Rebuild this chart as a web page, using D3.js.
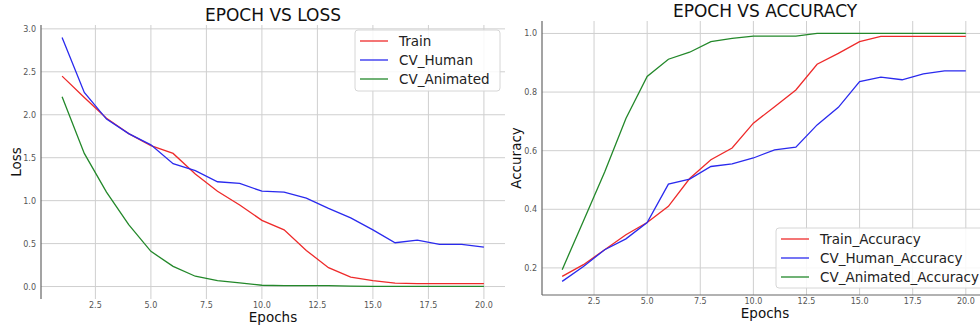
<!DOCTYPE html>
<html lang="en">
<head>
    <meta charset="UTF-8" />
    <title>Epoch vs Loss / Accuracy</title>
    <style>
        body, html {
            margin: 0;
            padding: 0;
            overflow: hidden;
            background: #ffffff;
            font-family: "DejaVu Sans", sans-serif;
        }
        svg {
            display: block;
        }
        .grid line {
            stroke: #cfcfcf;
            stroke-width: 1px;
        }
        .tick-label {
            font-size: 8px;
            fill: #555;
        }
        .title {
            font-size: 17px;
            fill: #111;
        }
        .axis-label {
            font-size: 13.5px;
            fill: #111;
        }
        .legend text {
            font-size: 13.5px;
            fill: #222;
        }
    </style>
</head>
<body>

<svg width="980" height="329"></svg>

<script src="https://d3js.org/d3.v7.min.js"></script>
<script>
    // data
    const epochs = [1, 2, 3, 4, 5, 6, 7, 8, 9, 10, 11, 12, 13, 14, 15, 16, 17, 18, 19, 20];

    const trainLoss = [2.45, 2.20, 1.96, 1.78, 1.64, 1.55, 1.31, 1.11, 0.95, 0.77,
                       0.66, 0.42, 0.22, 0.11, 0.07, 0.04, 0.035, 0.035, 0.035, 0.035];
    const cvHumanLoss = [2.90, 2.26, 1.95, 1.78, 1.65, 1.43, 1.35, 1.22, 1.20, 1.11,
                         1.10, 1.03, 0.91, 0.80, 0.66, 0.51, 0.54, 0.49, 0.49, 0.46];
    const cvAnimatedLoss = [2.21, 1.55, 1.10, 0.72, 0.41, 0.235, 0.12, 0.07, 0.043, 0.015,
                            0.01, 0.01, 0.01, 0.005, 0.003, 0.002, 0.002, 0.002, 0.002, 0.002];

    const trainAcc = [0.171, 0.211, 0.262, 0.313, 0.355, 0.41, 0.505, 0.569, 0.609, 0.694,
                      0.75, 0.807, 0.895, 0.932, 0.972, 0.99, 0.99, 0.99, 0.99, 0.99];
    const cvHumanAcc = [0.154, 0.205, 0.262, 0.299, 0.355, 0.486, 0.503, 0.546, 0.555, 0.575,
                        0.603, 0.612, 0.688, 0.748, 0.836, 0.851, 0.842, 0.862, 0.872, 0.872];
    const cvAnimatedAcc = [0.194, 0.36, 0.527, 0.71, 0.853, 0.912, 0.936, 0.972, 0.983, 0.991,
                           0.991, 0.991, 1.0, 1.0, 1.0, 1.0, 1.0, 1.0, 1.0, 1.0];

    const xTicks = [2.5, 5.0, 7.5, 10.0, 12.5, 15.0, 17.5, 20.0];
    const lossTicks = [0.0, 0.5, 1.0, 1.5, 2.0, 2.5, 3.0];
    const accTicks = [0.2, 0.4, 0.6, 0.8, 1.0];

    const lossNames = ["Train", "CV_Human", "CV_Animated"];
    const accNames = ["Train_Accuracy", "CV_Human_Accuracy", "CV_Animated_Accuracy"];
    const colors = ["#ee2a2a", "#2a2aee", "#23882a"];

    const svg = d3.select("svg");

    // one matplotlib-like panel
    function drawPanel(opt) {
        const g = svg.append("g");

        const x = d3.scaleLinear().domain(opt.xDomain).range([opt.left, opt.right]);
        const y = d3.scaleLinear().domain(opt.yDomain).range([opt.bottom, opt.top]);

        // grid
        const grid = g.append("g").attr("class", "grid");
        grid.selectAll("line.v")
            .data(xTicks)
            .join("line")
            .attr("class", "v")
            .attr("x1", d => x(d)).attr("x2", d => x(d))
            .attr("y1", opt.top).attr("y2", opt.bottom);
        grid.selectAll("line.h")
            .data(opt.yTicks)
            .join("line")
            .attr("class", "h")
            .attr("x1", opt.left).attr("x2", opt.right)
            .attr("y1", d => y(d)).attr("y2", d => y(d));

        // spines
        g.append("line")
            .attr("x1", opt.left).attr("x2", opt.left)
            .attr("y1", opt.top).attr("y2", opt.bottom)
            .attr("stroke", "#666").attr("stroke-width", 1.2);
        if (opt.bottomSpine) {
            g.append("line")
                .attr("x1", opt.left).attr("x2", opt.right)
                .attr("y1", opt.bottom).attr("y2", opt.bottom)
                .attr("stroke", "#666").attr("stroke-width", 1.2);
        }

        // tick labels
        g.selectAll("text.xt")
            .data(xTicks)
            .join("text")
            .attr("class", "tick-label xt")
            .attr("x", d => x(d))
            .attr("y", opt.bottom + opt.xTickOffset)
            .attr("text-anchor", "middle")
            .text(d => d.toFixed(1));
        g.selectAll("text.yt")
            .data(opt.yTicks)
            .join("text")
            .attr("class", "tick-label yt")
            .attr("x", opt.left - 5)
            .attr("y", d => y(d) + 3)
            .attr("text-anchor", "end")
            .text(d => d.toFixed(1));

        // lines
        const line = d3.line()
            .x((d, i) => x(epochs[i]))
            .y(d => y(d));
        g.selectAll("path.series")
            .data(opt.series)
            .join("path")
            .attr("class", "series")
            .attr("fill", "none")
            .attr("stroke", (d, i) => colors[i])
            .attr("stroke-width", 1.3)
            .attr("d", d => line(d));

        // titles
        const cx = (opt.left + opt.right) / 2;
        g.append("text")
            .attr("class", "title")
            .attr("x", opt.titleX || cx)
            .attr("y", opt.titleY)
            .attr("text-anchor", "middle")
            .text(opt.title);
        g.append("text")
            .attr("class", "axis-label")
            .attr("x", opt.titleX || cx)
            .attr("y", opt.xLabelY)
            .attr("text-anchor", "middle")
            .text("Epochs");
        g.append("text")
            .attr("class", "axis-label")
            .attr("transform", `translate(${opt.yLabelX},${(opt.top + opt.bottom) / 2}) rotate(-90)`)
            .attr("text-anchor", "middle")
            .text(opt.yLabel);

        // legend
        const lg = g.append("g").attr("class", "legend");
        lg.append("rect")
            .attr("x", opt.legend.x).attr("y", opt.legend.y)
            .attr("width", opt.legend.w).attr("height", opt.legend.h)
            .attr("rx", 3)
            .attr("fill", "#fff").attr("fill-opacity", 0.85)
            .attr("stroke", "#d6d6d6");
        const items = lg.selectAll("g.item")
            .data(opt.names)
            .join("g")
            .attr("class", "item")
            .attr("transform", (d, i) => `translate(${opt.legend.x},${opt.legend.y + 11 + i * 19})`);
        items.append("line")
            .attr("x1", 5).attr("x2", 33)
            .attr("y1", 0).attr("y2", 0)
            .attr("stroke", (d, i) => colors[i])
            .attr("stroke-width", 1.3);
        items.append("text")
            .attr("x", 44)
            .attr("y", 5)
            .text(d => d);
    }

    drawPanel({
        left: 41, right: 505, top: 25, bottom: 299,
        xDomain: [0.05, 20.95], yDomain: [-0.145, 3.045],
        yTicks: lossTicks,
        series: [trainLoss, cvHumanLoss, cvAnimatedLoss],
        names: lossNames,
        title: "EPOCH VS LOSS", titleX: 273, titleY: 21,
        xLabelY: 322, xTickOffset: 9,
        yLabel: "Loss", yLabelX: 21,
        bottomSpine: false,
        legend: { x: 355, y: 30, w: 145, h: 61 }
    });

    drawPanel({
        left: 542, right: 986, top: 21, bottom: 295,
        xDomain: [0.05, 20.95], yDomain: [0.1075, 1.0425],
        yTicks: accTicks,
        series: [trainAcc, cvHumanAcc, cvAnimatedAcc],
        names: accNames,
        title: "EPOCH VS ACCURACY", titleX: 765, titleY: 17,
        xLabelY: 318, xTickOffset: 9,
        yLabel: "Accuracy", yLabelX: 521,
        bottomSpine: true,
        legend: { x: 776, y: 228, w: 210, h: 60 }
    });
</script>
</body>
</html>
